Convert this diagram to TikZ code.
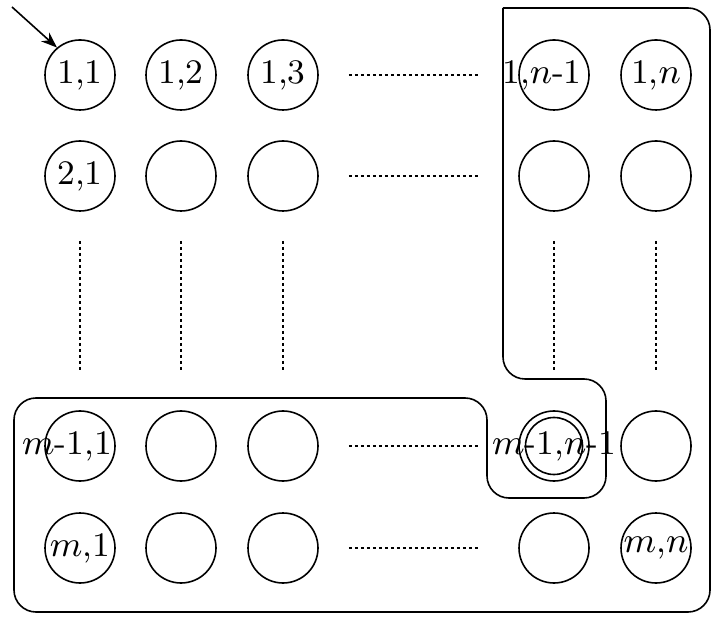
\documentclass[tikz,border=0pt]{standalone}
\usepackage{amsmath}
\usepackage{tikz}
\usetikzlibrary{arrows.meta, positioning, calc}

\begin{document}
\begin{tikzpicture}[x=0.25pt,y=-0.25pt,>={Stealth[length=4pt,width=3pt]},
    cell/.style={draw, circle, minimum size=17.5pt, inner sep=0pt},
    lab/.style={font=\fontsize{8.6}{10}\selectfont, inner sep=0pt},
    dots/.style={dash pattern=on 0.7pt off 0.8pt}]

    \useasboundingbox (0,0) rectangle (713,617);

    %--------------------------------
    % grid of cells
    %--------------------------------
    \foreach \c/\x in {1/80,2/181,3/283,p/554,n/656}{
        \foreach \r/\y in {1/75,2/176,q/446,m/548}{
            \node[cell] (c\r\c) at (\x,\y) {};
        }
    }

    % inner ring of the marked cell
    \node[cell, minimum size=14.25pt] (ring) at (cqp) {};

    %--------------------------------
    % labels
    %--------------------------------
    \node[lab] (l11) at (c11) {1,1};
    \node[lab] (l12) at (c12) {1,2};
    \node[lab] (l13) at (c13) {1,3};
    \node[lab, xshift=-3pt] (l1p) at (c1p) {1,$n$-1};
    \node[lab] (l1n) at (c1n) {1,$n$};
    \node[lab] (l21) at (c21) {2,1};
    \node[lab, xshift=-3.25pt] (lq1) at (cq1) {$m$-1,1};
    \node[lab] (lqp) at (cqp) {$m$-1,$n$-1};
    \node[lab] (lm1) at (cm1) {$m$,1};
    \node[lab] (lmn) at (cmn) {$m$,$n$};

    %--------------------------------
    % dotted gaps
    %--------------------------------
    \foreach \r in {1,2,q,m}{
        \draw[dots, shorten <=7.5pt, shorten >=9.75pt] (c\r3.east) -- (c\r p.west);
    }
    \foreach \c in {1,2,3,p,n}{
        \draw[dots, shorten <=7.25pt, shorten >=9.5pt] (c2\c.south) -- (cq\c.north);
    }

    %--------------------------------
    % start arrow
    %--------------------------------
    \coordinate (start) at (12,7);
    \draw[->] (start) -- (c11.130);

    %--------------------------------
    % boundary
    %--------------------------------
    \draw[rounded corners=5.5pt]
        (503,8) -- (710,8) -- (710,612) -- (14,612) -- (14,398)
        -- (487,398) -- (487,498) -- (606,498) -- (606,379)
        -- (503,379) -- (503,8);

\end{tikzpicture}
\end{document}
